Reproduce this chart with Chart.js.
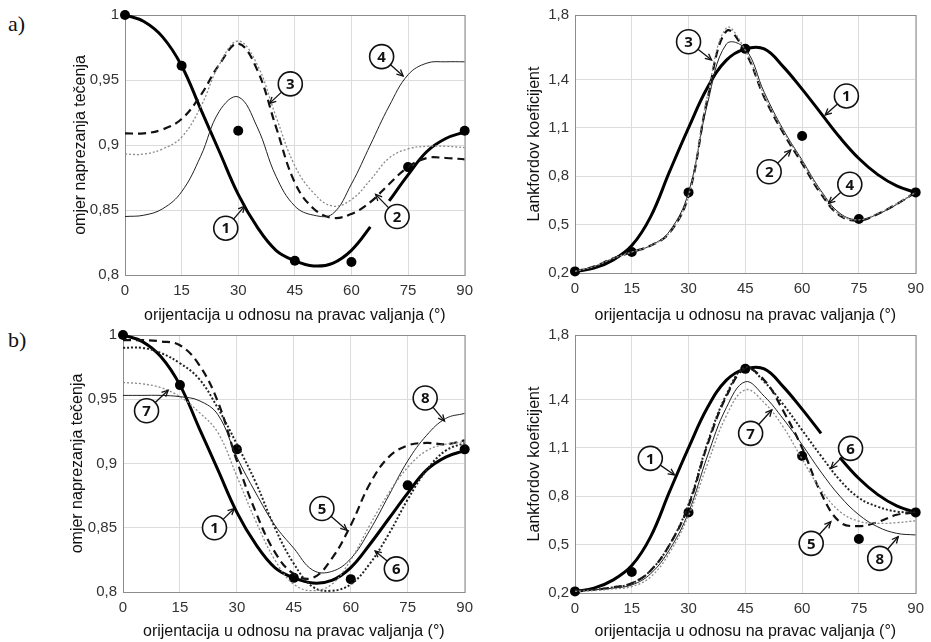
<!DOCTYPE html>
<html>
<head>
<meta charset="utf-8">
<script src="https://cdn.jsdelivr.net/npm/chart.js@4.4.0/dist/chart.umd.min.js"></script>
<style>
  body { margin: 0; background: #fff; width: 931px; height: 642px; position: relative; overflow: hidden; }
  canvas { position: absolute; }
  .tag { position: absolute; font-family: "Liberation Serif", "DejaVu Serif", serif; font-size: 22px; line-height: 1; color: #111; }
</style>
</head>
<body>
<div class="tag" style="left:8px; top:13px;">a)</div>
<div class="tag" style="left:8px; top:329px;">b)</div>
<canvas id="chart_a_yield" width="440" height="330" style="left:40px; top:0px;"></canvas>
<canvas id="chart_a_r" width="451" height="330" style="left:480px; top:0px;"></canvas>
<canvas id="chart_b_yield" width="440" height="322" style="left:40px; top:320px;"></canvas>
<canvas id="chart_b_r" width="451" height="322" style="left:480px; top:320px;"></canvas>
<script>
// angles used for every model curve
var ANGLES = [0, 5, 10, 15, 20, 25, 30, 35, 40, 45, 50, 55, 60, 65, 70, 75, 80, 85, 90];
var EXP_ANGLES = [0, 15, 30, 45, 60, 75, 90];

// measured values (filled dots)
var EXP_YIELD = [1.0, 0.961, 0.911, 0.811, 0.810, 0.883, 0.911];
var EXP_R = [0.21, 0.33, 0.70, 1.59, 1.05, 0.535, 0.70];

// yield stress ratio, models 1..8
var YIELD_1 = [1.000, 0.995, 0.983, 0.961, 0.928, 0.895, 0.862, 0.837, 0.819, 0.811, 0.807, 0.809, 0.819, 0.837, 0.857, 0.877, 0.895, 0.905, 0.910];
var YIELD_2 = [0.909, 0.909, 0.912, 0.920, 0.938, 0.962, 0.978, 0.958, 0.914, 0.871, 0.851, 0.844, 0.847, 0.856, 0.870, 0.883, 0.890, 0.890, 0.889];
var YIELD_3 = [0.893, 0.893, 0.897, 0.906, 0.929, 0.962, 0.980, 0.962, 0.922, 0.884, 0.863, 0.853, 0.858, 0.873, 0.890, 0.897, 0.899, 0.899, 0.898];
var YIELD_4 = [0.845, 0.846, 0.851, 0.864, 0.891, 0.926, 0.937, 0.914, 0.876, 0.853, 0.846, 0.847, 0.870, 0.900, 0.930, 0.954, 0.963, 0.964, 0.964];
var YIELD_5 = [0.996, 0.996, 0.995, 0.992, 0.977, 0.948, 0.902, 0.862, 0.831, 0.814, 0.811, 0.826, 0.852, 0.884, 0.905, 0.914, 0.916, 0.915, 0.918];
var YIELD_6 = [0.990, 0.990, 0.986, 0.978, 0.966, 0.943, 0.915, 0.885, 0.850, 0.822, 0.804, 0.801, 0.806, 0.822, 0.845, 0.872, 0.895, 0.910, 0.916];
var YIELD_7 = [0.963, 0.962, 0.959, 0.952, 0.940, 0.924, 0.890, 0.855, 0.825, 0.806, 0.801, 0.806, 0.825, 0.852, 0.877, 0.897, 0.910, 0.915, 0.917];
var YIELD_8 = [0.953, 0.953, 0.953, 0.952, 0.949, 0.938, 0.905, 0.877, 0.852, 0.834, 0.817, 0.816, 0.826, 0.848, 0.875, 0.902, 0.922, 0.935, 0.939];

// Lankford coefficient, models 1..8
var R_1 = [0.21, 0.23, 0.28, 0.37, 0.55, 0.83, 1.10, 1.35, 1.52, 1.59, 1.59, 1.48, 1.34, 1.19, 1.04, 0.91, 0.81, 0.74, 0.70];
var R_2 = [0.21, 0.24, 0.29, 0.33, 0.37, 0.45, 0.68, 1.28, 1.70, 1.57, 1.29, 1.07, 0.88, 0.69, 0.556, 0.525, 0.566, 0.628, 0.70];
var R_3 = [0.21, 0.24, 0.29, 0.33, 0.37, 0.45, 0.68, 1.30, 1.72, 1.58, 1.30, 1.08, 0.89, 0.70, 0.56, 0.53, 0.57, 0.63, 0.70];
var R_4 = [0.21, 0.24, 0.29, 0.33, 0.37, 0.46, 0.70, 1.25, 1.62, 1.59, 1.32, 1.09, 0.90, 0.71, 0.57, 0.53, 0.565, 0.625, 0.70];
var R_5 = [0.215, 0.22, 0.235, 0.26, 0.34, 0.50, 0.74, 1.12, 1.42, 1.59, 1.52, 1.33, 1.10, 0.82, 0.64, 0.615, 0.64, 0.685, 0.70];
var R_6 = [0.215, 0.22, 0.235, 0.26, 0.34, 0.50, 0.75, 1.13, 1.43, 1.60, 1.51, 1.37, 1.21, 1.05, 0.90, 0.79, 0.735, 0.705, 0.70];
var R_7 = [0.21, 0.215, 0.225, 0.24, 0.30, 0.45, 0.68, 1.00, 1.30, 1.46, 1.38, 1.23, 1.03, 0.84, 0.705, 0.645, 0.632, 0.636, 0.648];
var R_8 = [0.215, 0.22, 0.23, 0.25, 0.32, 0.47, 0.70, 1.05, 1.35, 1.51, 1.42, 1.28, 1.12, 0.95, 0.80, 0.685, 0.61, 0.57, 0.56];

// axis ticks
var YIELD_TICKS = [0.8, 0.85, 0.9, 0.95, 1];
var R_TICKS = [0.2, 0.5, 0.8, 1.1, 1.4, 1.8];

var X_TITLE = "orijentacija u odnosu na pravac valjanja (°)";
var YIELD_TITLE = "omjer naprezanja tečenja";
var R_TITLE = "Lankfordov koeficijent";

Chart.defaults.font.family = '"Liberation Sans", Arial, sans-serif';

/*
############################## Line styles ##############################
*/
var STYLE = {
    thick:      { borderColor: "#000", borderWidth: 3 },
    dashed:     { borderColor: "#111", borderWidth: 2.2, borderDash: [8, 5] },
    grayDotted: { borderColor: "#8a8a8a", borderWidth: 1.3, borderDash: [2, 2] },
    darkDotted: { borderColor: "#222", borderWidth: 2, borderDash: [2, 2] },
    thin:       { borderColor: "#222", borderWidth: 1 }
};

function curve(values, style, gapFrom) {
    let dataset = Object.assign({
        data: ANGLES.map((a, i) => ({ x: a, y: values[i] })),
        pointRadius: 0,
        fill: false,
        tension: 0.4
    }, style);
    if (gapFrom !== undefined) {
        dataset.segment = {
            borderColor: ctx => ctx.p0.parsed.x === gapFrom ? "rgba(0,0,0,0)" : undefined
        };
    }
    return dataset;
}

function measured(values) {
    return {
        data: EXP_ANGLES.map((a, i) => ({ x: a, y: values[i] })),
        showLine: false,
        pointRadius: 5,
        pointBackgroundColor: "#000",
        pointBorderWidth: 0,
        clip: false
    };
}

/*
############################## Plugins ##############################
*/
var boxPlugin = {
    id: "box",
    beforeDatasetsDraw(chart) {
        const a = chart.chartArea;
        const ctx = chart.ctx;
        ctx.save();
        ctx.strokeStyle = "#8c8c8c";
        ctx.lineWidth = 1;
        ctx.strokeRect(a.left + 0.5, a.top + 0.5, a.right - a.left, a.bottom - a.top);
        ctx.restore();
    }
};

// numbered circles with an arrow pointing at a curve
var calloutPlugin = {
    id: "callouts",
    afterDatasetsDraw(chart, args, opts) {
        const ctx = chart.ctx;
        const xs = chart.scales.x, ys = chart.scales.y;
        const r = 12;
        (opts.items || []).forEach(item => {
            const cx = xs.getPixelForValue(item.at[0]);
            const cy = ys.getPixelForValue(item.at[1]);
            const tx = xs.getPixelForValue(item.tip[0]);
            const ty = ys.getPixelForValue(item.tip[1]);
            const ang = Math.atan2(ty - cy, tx - cx);
            ctx.save();
            ctx.strokeStyle = "#111";
            ctx.lineWidth = 1.3;
            ctx.beginPath();
            ctx.moveTo(cx + r * Math.cos(ang), cy + r * Math.sin(ang));
            ctx.lineTo(tx, ty);
            ctx.stroke();
            ctx.beginPath();
            ctx.moveTo(tx - 7 * Math.cos(ang - 0.45), ty - 7 * Math.sin(ang - 0.45));
            ctx.lineTo(tx, ty);
            ctx.lineTo(tx - 7 * Math.cos(ang + 0.45), ty - 7 * Math.sin(ang + 0.45));
            ctx.stroke();
            ctx.beginPath();
            ctx.arc(cx, cy, r, 0, Math.PI * 2);
            ctx.fillStyle = "#fff";
            ctx.fill();
            ctx.lineWidth = 1.6;
            ctx.stroke();
            ctx.fillStyle = "#111";
            ctx.font = 'bold 15px "Open Sans", "Liberation Sans", sans-serif';
            ctx.textAlign = "center";
            ctx.textBaseline = "middle";
            ctx.fillText(item.n, cx, cy + 1);
            ctx.restore();
        });
    }
};

/*
############################## Chart factory ##############################
*/
function draw_panel(canvasId, cfg) {
    return new Chart(document.getElementById(canvasId), {
        type: "line",
        data: { datasets: cfg.datasets },
        options: {
            responsive: false,
            animation: false,
            layout: { padding: { top: cfg.top, right: cfg.right, left: 0, bottom: 0 } },
            plugins: {
                legend: { display: false },
                tooltip: { enabled: false },
                callouts: { items: cfg.callouts }
            },
            scales: {
                x: {
                    type: "linear",
                    min: 0,
                    max: 90,
                    border: { display: false },
                    grid: { color: "#dcdcdc", drawTicks: false },
                    ticks: { stepSize: 15, padding: 7, color: "#333", font: { size: 15 }, maxRotation: 0 },
                    title: {
                        display: true,
                        text: X_TITLE,
                        color: "#111",
                        font: { size: 16 },
                        padding: { top: 0, bottom: cfg.xTitleOffset }
                    },
                    afterFit: s => { s.height = cfg.xHeight; }
                },
                y: {
                    type: "linear",
                    min: cfg.yTicks[0],
                    max: cfg.yTicks[cfg.yTicks.length - 1],
                    border: { display: false },
                    grid: { color: "#dcdcdc", drawTicks: false },
                    afterBuildTicks: s => { s.ticks = cfg.yTicks.map(v => ({ value: v })); },
                    ticks: {
                        padding: 6,
                        color: "#333",
                        font: { size: 15 },
                        callback: v => String(v).replace(".", ",")
                    },
                    title: {
                        display: true,
                        text: cfg.yTitle,
                        color: "#111",
                        font: { size: 16 },
                        padding: { top: cfg.yTitlePad, bottom: 0 }
                    },
                    afterFit: s => { s.width = cfg.yWidth; }
                }
            }
        },
        plugins: [boxPlugin, calloutPlugin]
    });
}

// a) yield stress ratio
draw_panel("chart_a_yield", {
    top: 15, right: 14, yWidth: 85, xHeight: 55, xTitleOffset: 5, yTitlePad: 31,
    yTicks: YIELD_TICKS, yTitle: YIELD_TITLE,
    datasets: [
        curve(YIELD_3, STYLE.grayDotted),
        curve(YIELD_4, STYLE.thin),
        curve(YIELD_2, STYLE.dashed),
        curve(YIELD_1, STYLE.thick, 65),
        measured(EXP_YIELD)
    ],
    callouts: [
        { n: "1", at: [26.7, 0.836], tip: [31.7, 0.853] },
        { n: "2", at: [72.1, 0.845], tip: [66.4, 0.862] },
        { n: "3", at: [43.8, 0.947], tip: [38.3, 0.932] },
        { n: "4", at: [68.0, 0.968], tip: [73.7, 0.953] }
    ]
});

// a) Lankford coefficient
draw_panel("chart_a_r", {
    top: 15, right: 11, yWidth: 95, xHeight: 57, xTitleOffset: 5, yTitlePad: 45,
    yTicks: R_TICKS, yTitle: R_TITLE,
    datasets: [
        curve(R_3, STYLE.grayDotted),
        curve(R_4, STYLE.thin),
        curve(R_2, STYLE.dashed),
        curve(R_1, STYLE.thick),
        measured(EXP_R)
    ],
    callouts: [
        { n: "1", at: [71.7, 1.298], tip: [66.1, 1.18] },
        { n: "2", at: [51.3, 0.828], tip: [57.0, 0.963] },
        { n: "3", at: [30.0, 1.634], tip: [36.1, 1.521] },
        { n: "4", at: [72.6, 0.750], tip: [67.0, 0.633] }
    ]
});

// b) yield stress ratio
draw_panel("chart_b_yield", {
    top: 9, right: 13, yWidth: 83, xHeight: 50, xTitleOffset: 1, yTitlePad: 28,
    yTicks: YIELD_TICKS, yTitle: YIELD_TITLE,
    datasets: [
        curve(YIELD_7, STYLE.grayDotted),
        curve(YIELD_8, STYLE.thin),
        curve(YIELD_6, STYLE.darkDotted),
        curve(YIELD_5, STYLE.dashed),
        curve(YIELD_1, STYLE.thick),
        measured(EXP_YIELD)
    ],
    callouts: [
        { n: "1", at: [24.1, 0.850], tip: [29.3, 0.865] },
        { n: "5", at: [52.4, 0.865], tip: [59.0, 0.848] },
        { n: "6", at: [72.0, 0.818], tip: [66.4, 0.832] },
        { n: "7", at: [6.2, 0.941], tip: [11.9, 0.957] },
        { n: "8", at: [79.6, 0.951], tip: [84.7, 0.933] }
    ]
});

// b) Lankford coefficient
draw_panel("chart_b_r", {
    top: 15, right: 10, yWidth: 95, xHeight: 49, xTitleOffset: 1, yTitlePad: 45,
    yTicks: R_TICKS, yTitle: R_TITLE,
    datasets: [
        curve(R_7, STYLE.grayDotted),
        curve(R_8, STYLE.thin),
        curve(R_6, STYLE.darkDotted),
        curve(R_5, STYLE.dashed),
        curve(R_1, STYLE.thick, 65),
        measured(EXP_R)
    ],
    callouts: [
        { n: "1", at: [19.9, 1.035], tip: [26.3, 0.932] },
        { n: "5", at: [62.4, 0.508], tip: [67.6, 0.642] },
        { n: "6", at: [72.8, 1.097], tip: [67.6, 0.973] },
        { n: "7", at: [46.4, 1.19], tip: [52.0, 1.335] },
        { n: "8", at: [80.5, 0.415], tip: [85.4, 0.549] }
    ]
});
</script>
</body>
</html>
